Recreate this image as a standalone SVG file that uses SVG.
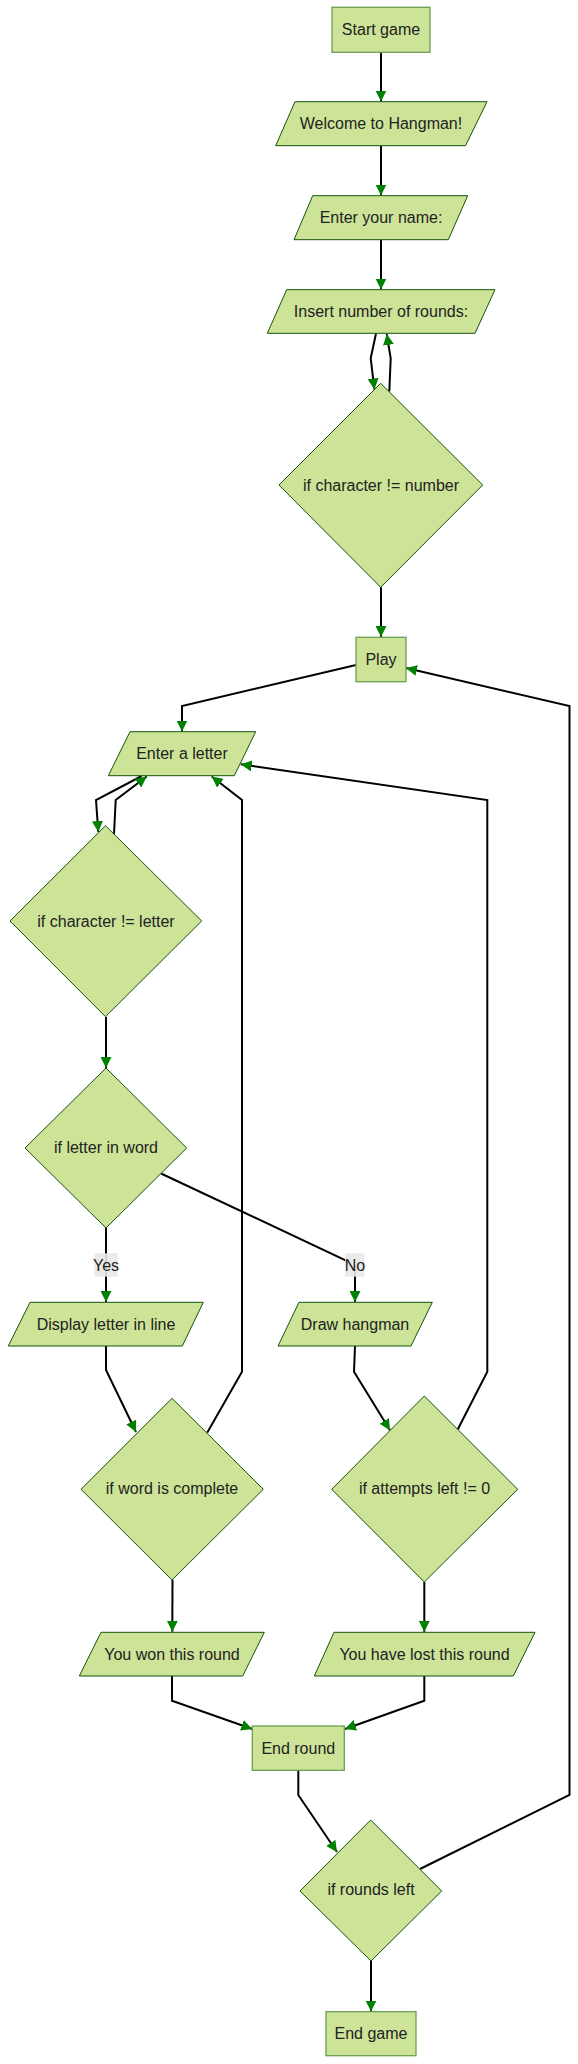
<svg xmlns="http://www.w3.org/2000/svg" width="578" height="2064" viewBox="0 0 578 2064">
<defs>
<marker id="arrow" viewBox="0 0 10 10" refX="10" refY="5" markerWidth="11" markerHeight="11" markerUnits="userSpaceOnUse" orient="auto">
<path d="M0,0 L10,5 L0,10 z" fill="#008000"/>
</marker>
<style>
.node{fill:#cde498;stroke:#13540c;stroke-width:1}
.rectn{fill:#cde498;stroke:#6a9e55;stroke-width:1.3}
.edge{fill:none;stroke:#000;stroke-width:2;marker-end:url(#arrow)}
.edge2{fill:none;stroke:#000;stroke-width:2}
text{font-family:"Liberation Sans",Arial,sans-serif;font-size:16px;fill:#222;text-anchor:middle;dominant-baseline:central}
.lbl{fill:#e8e8e8;opacity:0.9}
</style>
</defs>
<rect width="578" height="2064" fill="#fff"/>
<g id="connectors">
<path class="edge" d="M381,52.5 L381,101.5"/>
<path class="edge" d="M381,146 L381,195.5"/>
<path class="edge" d="M381,240 L381,289.5"/>
<path class="edge" d="M376,333.5 L370.7,358.3 L374.4,389.5"/>
<path class="edge" d="M389.3,391.5 L390.7,358.3 L386.7,334"/>
<path class="edge" d="M381,587.3 L381,637"/>
<path class="edge" d="M356,665 L182,706 L182,731.5"/>
<path class="edge" d="M141.7,776 L96,800 L98.3,832"/>
<path class="edge" d="M114,834.5 L115.7,800 L146.7,776.5"/>
<path class="edge" d="M106,1017 L106,1068"/>
<path class="edge" d="M106,1228 L106,1302"/>
<path class="edge" d="M161,1173.5 L345,1260 L355,1270 L355,1302"/>
<path class="edge" d="M106,1346 L106,1370 L136,1432"/>
<path class="edge" d="M207.3,1432.5 L242,1371.7 L242,800 L211.7,776.5"/>
<path class="edge" d="M355,1346 L354,1371.7 L390,1430.3"/>
<path class="edge" d="M457.7,1429.5 L487.3,1371.7 L487.3,800 L240.7,764.3"/>
<path class="edge" d="M172.5,1580 L172.3,1631.8"/>
<path class="edge" d="M424.3,1582 L424.3,1631.8"/>
<path class="edge" d="M172,1676 L172,1700.7 L252.3,1729"/>
<path class="edge" d="M424.3,1676 L424.3,1700.7 L345,1729"/>
<path class="edge" d="M298.3,1770.3 L298.3,1795 L337,1852"/>
<path class="edge" d="M420,1869 L569.5,1795 L569.5,706 L406,668"/>
<path class="edge" d="M371,1961 L371,2011.5"/>
<rect class="lbl" x="94.3" y="1253.3" width="23.4" height="23.4"/>
<text x="106" y="1265">Yes</text>
<rect class="lbl" x="345" y="1253.3" width="19.4" height="23.4"/>
<text x="355" y="1265">No</text>
</g>
<g id="start">
<rect class="rectn" x="332" y="7.3" width="98" height="45"/>
<text x="381" y="29.8">Start game</text>
</g>
<g id="welcome">
<polygon class="node" points="295,101.7 487,101.7 465.5,145.7 275.7,145.7"/>
<text x="381" y="123.7">Welcome to Hangman!</text>
</g>
<g id="name">
<polygon class="node" points="312.7,195.7 467.7,195.7 448.3,239.7 294,239.7"/>
<text x="381" y="217.7">Enter your name:</text>
</g>
<g id="rounds-input">
<polygon class="node" points="286.7,289.7 495,289.7 475,333.3 267.3,333.3"/>
<text x="381" y="311.5">Insert number of rounds:</text>
</g>
<g id="check-number">
<polygon class="node" points="380.7,383.3 482.7,485 380.7,587.3 279,485"/>
<text x="381" y="485">if character != number</text>
</g>
<g id="play">
<rect class="rectn" x="356" y="637.3" width="50" height="44.4"/>
<text x="381" y="659.5">Play</text>
</g>
<g id="enter-letter">
<polygon class="node" points="130,731.7 255.7,731.7 234.3,775.7 108.3,775.7"/>
<text x="182" y="753.7">Enter a letter</text>
</g>
<g id="check-letter">
<polygon class="node" points="105.5,825.7 201.7,921 105.5,1016.7 10,921"/>
<text x="106" y="921">if character != letter</text>
</g>
<g id="letter-in-word">
<polygon class="node" points="106,1068 186.7,1148 106,1228 25,1148"/>
<text x="106" y="1147">if letter in word</text>
</g>
<g id="display">
<polygon class="node" points="30,1302.3 203.3,1302.3 182.3,1346 8.3,1346"/>
<text x="106" y="1324">Display letter in line</text>
</g>
<g id="draw">
<polygon class="node" points="299,1302.3 432.3,1302.3 411,1346 278,1346"/>
<text x="355" y="1324">Draw hangman</text>
</g>
<g id="word-complete">
<polygon class="node" points="172,1398.3 263.3,1489.3 172,1580 81,1489.3"/>
<text x="172" y="1488">if word is complete</text>
</g>
<g id="attempts">
<polygon class="node" points="424.3,1396 517.7,1489.3 424.3,1582 331.7,1489.3"/>
<text x="424.5" y="1488">if attempts left != 0</text>
</g>
<g id="won">
<polygon class="node" points="101,1632.3 264.3,1632.3 242.7,1676 79.3,1676"/>
<text x="172" y="1654">You won this round</text>
</g>
<g id="lost">
<polygon class="node" points="334,1632.3 535,1632.3 513.3,1676 314.3,1676"/>
<text x="424.5" y="1654">You have lost this round</text>
</g>
<g id="end-round">
<rect class="rectn" x="252.3" y="1726" width="92" height="44.3"/>
<text x="298.3" y="1748">End round</text>
</g>
<g id="rounds-left">
<polygon class="node" points="370.7,1820 441.7,1891 371,1961 300,1891"/>
<text x="371" y="1889.5">if rounds left</text>
</g>
<g id="end-game">
<rect class="rectn" x="326" y="2011.7" width="90" height="44"/>
<text x="371" y="2033.7">End game</text>
</g>
</svg>
